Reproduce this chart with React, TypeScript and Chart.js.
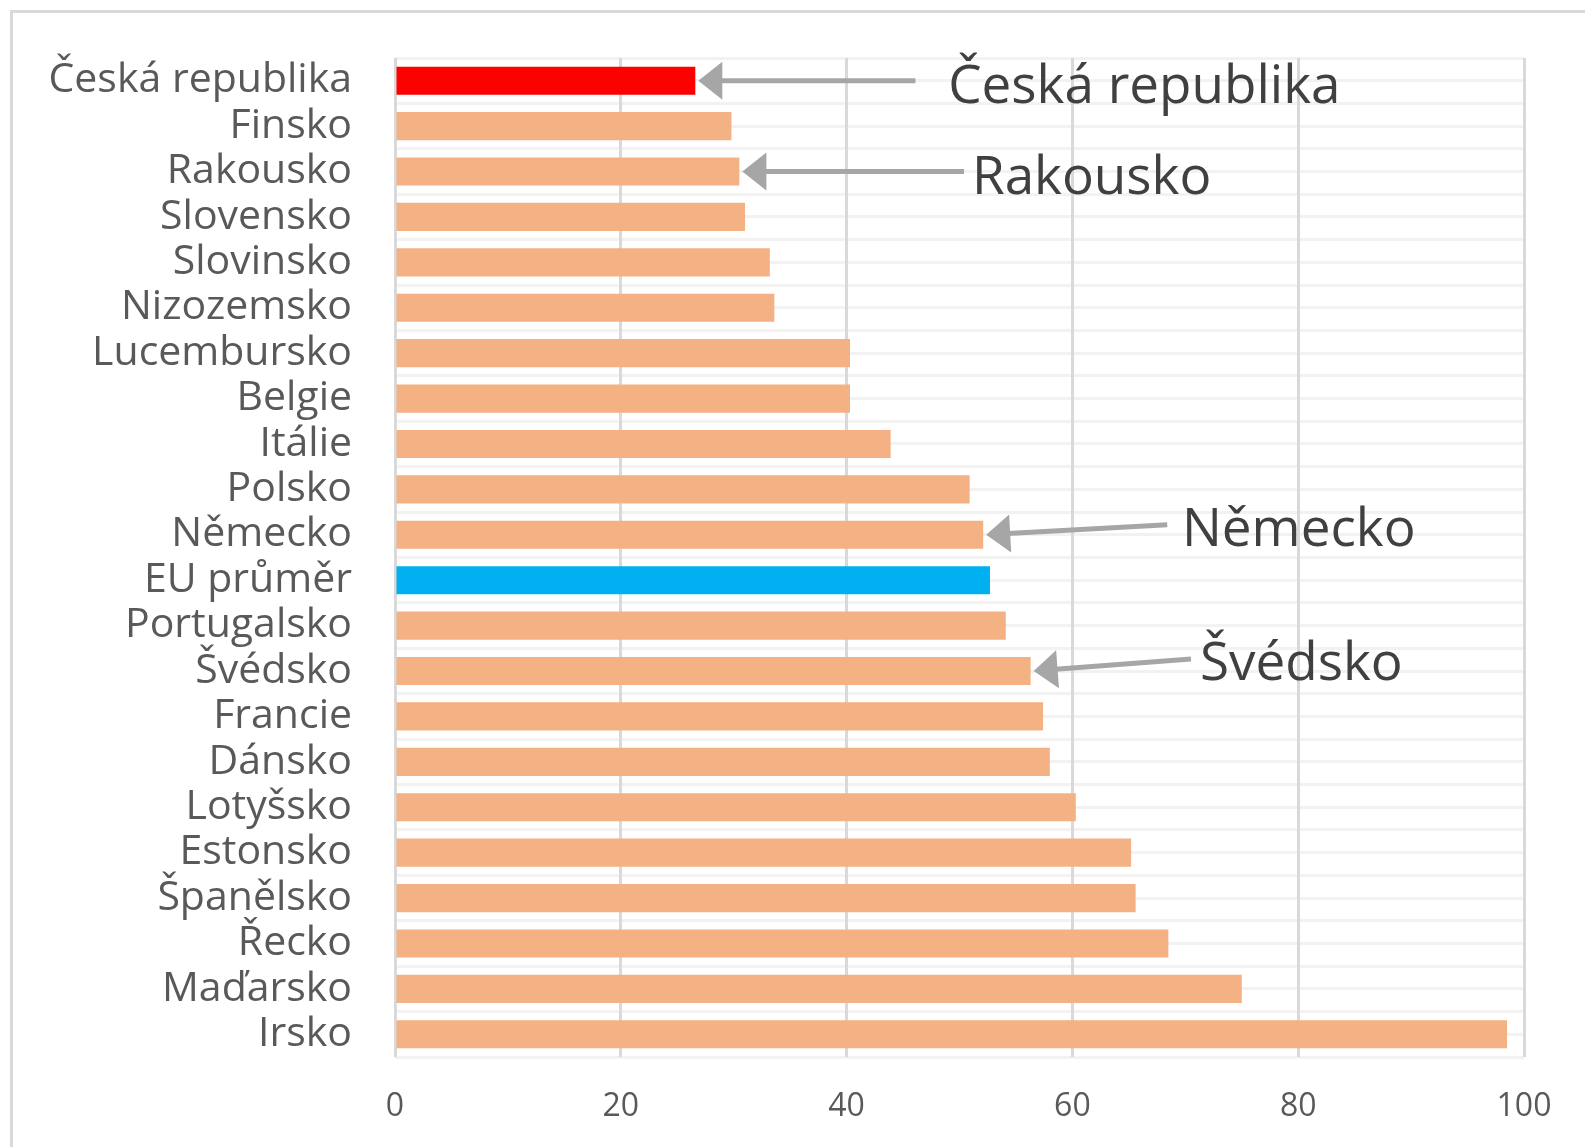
import React, { useEffect, useRef } from "react";
import { Chart, registerables } from "chart.js";

Chart.register(...registerables);

const categories = [
  "Česká republika", "Finsko", "Rakousko", "Slovensko", "Slovinsko", "Nizozemsko",
  "Lucembursko", "Belgie", "Itálie", "Polsko", "Německo", "EU průměr",
  "Portugalsko", "Švédsko", "Francie", "Dánsko", "Lotyšsko", "Estonsko",
  "Španělsko", "Řecko", "Maďarsko", "Irsko",
];

const values = [
  26.6, 29.8, 30.5, 31.0, 33.2, 33.6, 40.3, 40.3, 43.9, 50.9, 52.1, 52.7,
  54.1, 56.3, 57.4, 58.0, 60.3, 65.2, 65.6, 68.5, 75.0, 98.5,
];

const xTickValues = [0, 20, 40, 60, 80, 100];

const highlightCountry = "Česká republika";
const highlightAverage = "EU průměr";

const annotationLabels = ["Česká republika", "Rakousko", "Německo", "Švédsko"];
const annotationTargets = ["Česká republika", "Rakousko", "Německo", "Švédsko"];
const annotationTailValues = [46.1, 50.4, 68.4, 70.5];
const annotationTextValues = [49.0, 51.1, 69.7, 71.3];

const COLOR_BAR = "#F4B183";
const COLOR_CZ = "#FF0000";
const COLOR_EU = "#00B0F0";
const FONT = "'Open Sans', 'Noto Sans', sans-serif";

const tailDy = [0, 0, -10, -12];
const textDy = [22, 22, 11, 9];

const arrowPlugin = {
  id: "arrowAnnotations",
  afterDatasetsDraw(chart: any) {
    const ctx = chart.ctx;
    const xs = chart.scales.x;
    const ys = chart.scales.y;
    ctx.save();
    annotationTargets.forEach((target, i) => {
      const idx = categories.indexOf(target);
      const yc = ys.getPixelForValue(idx);
      const tipX = xs.getPixelForValue(values[idx]) + 3;
      const tailX = xs.getPixelForValue(annotationTailValues[i]);
      const tailY = yc + tailDy[i];
      const ang = Math.atan2(tailY - yc, tailX - tipX);
      const headLen = 24;
      const headHalf = 19;
      const bx = tipX + Math.cos(ang) * headLen;
      const by = yc + Math.sin(ang) * headLen;
      ctx.strokeStyle = "#a6a6a6";
      ctx.fillStyle = "#a6a6a6";
      ctx.lineWidth = 5;
      ctx.beginPath();
      ctx.moveTo(bx - Math.cos(ang) * 2, by - Math.sin(ang) * 2);
      ctx.lineTo(tailX, tailY);
      ctx.stroke();
      const px = -Math.sin(ang);
      const py = Math.cos(ang);
      ctx.beginPath();
      ctx.moveTo(tipX, yc);
      ctx.lineTo(bx + px * headHalf, by + py * headHalf);
      ctx.lineTo(bx - px * headHalf, by - py * headHalf);
      ctx.closePath();
      ctx.fill();

      ctx.fillStyle = "#404040";
      ctx.font = `53px ${FONT}`;
      ctx.textAlign = "left";
      ctx.textBaseline = "alphabetic";
      ctx.fillText(annotationLabels[i], xs.getPixelForValue(annotationTextValues[i]), yc + textDy[i]);
    });
    ctx.restore();
  },
};

export default function App() {
  const canvasRef = useRef<HTMLCanvasElement | null>(null);

  useEffect(() => {
    document.body.style.margin = "0";
    document.body.style.overflow = "hidden";
    const canvas = canvasRef.current;
    if (!canvas) return;
    const colors = categories.map((c) =>
      c === highlightCountry ? COLOR_CZ : c === highlightAverage ? COLOR_EU : COLOR_BAR
    );
    const chart = new Chart(canvas, {
      type: "bar",
      data: {
        labels: categories,
        datasets: [
          {
            data: values,
            backgroundColor: colors,
            borderWidth: 0,
            barPercentage: 0.62,
            categoryPercentage: 1,
          },
        ],
      },
      options: {
        indexAxis: "y",
        animation: false,
        responsive: false,
        devicePixelRatio: 1,
        layout: { padding: { left: 0, top: 58, right: 61, bottom: 0 } },
        plugins: {
          legend: { display: false },
          tooltip: { enabled: false },
        },
        scales: {
          x: {
            type: "linear",
            min: 0,
            max: 100,
            afterBuildTicks: (scale: any) => {
              scale.ticks = xTickValues.map((v) => ({ value: v }));
            },
            afterFit: (scale: any) => {
              scale.height = 90;
              scale.paddingLeft = 0;
              scale.paddingRight = 0;
            },
            grid: { color: "#d9d9d9", lineWidth: 3, drawTicks: false, z: -1 },
            border: { display: false },
            ticks: {
              color: "#595959",
              font: { family: FONT, size: 32 },
              padding: 31,
            },
          },
          y: {
            type: "category",
            offset: true,
            afterFit: (scale: any) => {
              scale.width = 395;
              scale.paddingTop = 0;
              scale.paddingBottom = 0;
            },
            grid: { color: "#f2f2f2", lineWidth: 3, drawTicks: false, offset: true, z: -2 },
            border: { display: false },
            ticks: {
              color: "#595959",
              font: { family: FONT, size: 41 },
              padding: 43,
              autoSkip: false,
            },
          },
          y2: {
            type: "category",
            position: "left",
            offset: true,
            afterFit: (scale: any) => {
              scale.width = 0;
              scale.paddingTop = 0;
              scale.paddingBottom = 0;
            },
            grid: { color: "#f2f2f2", lineWidth: 3, drawTicks: false, offset: false, z: -2 },
            border: { display: false },
            ticks: { display: false },
          },
        },
      },
      plugins: [arrowPlugin],
    } as any);
    return () => chart.destroy();
  }, []);

  return (
    <div style={{ position: "relative", width: 1585, height: 1147, overflow: "hidden", background: "#fff" }}>
      <div
        style={{
          position: "absolute",
          left: 10,
          top: 10,
          width: 2000,
          height: 2000,
          border: "3px solid #d9d9d9",
          boxSizing: "border-box",
        }}
      />
      <canvas ref={canvasRef} width={1585} height={1147} style={{ position: "absolute", left: 0, top: 0 }} />
    </div>
  );
}
